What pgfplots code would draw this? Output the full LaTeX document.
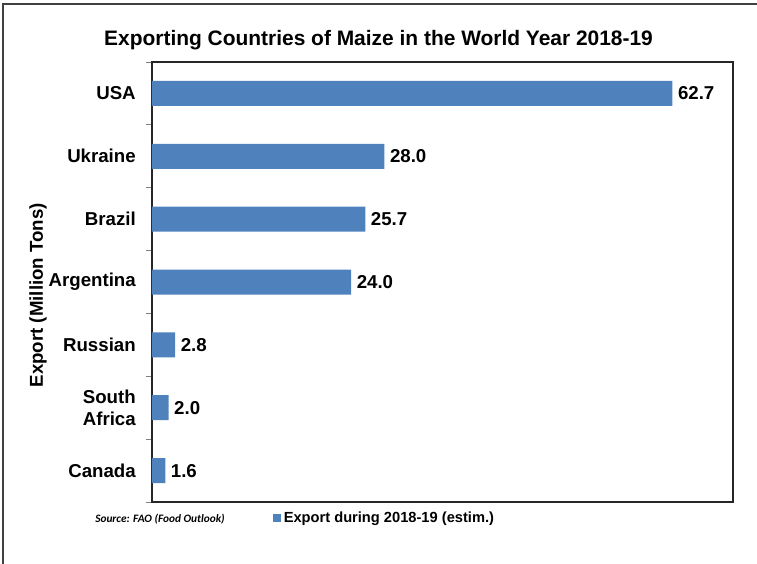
\documentclass[border=0pt]{standalone}
\usepackage{pgfplots}
\pgfplotsset{compat=1.18}
\usepackage{fontspec}
\setmainfont{Liberation Sans}
\newfontfamily\srcfont{Carlito}
\definecolor{barblue}{RGB}{79,129,189}
\definecolor{framegray}{RGB}{64,64,64}

\begin{document}
\begin{tikzpicture}
% picture is 757 x 564 px, 1px = 0.75pt
\useasboundingbox (0,0) rectangle (567.75pt,-423pt);
\draw[framegray, line width=1.3pt] (2.25pt,-424pt) -- (2.25pt,-3pt) -- (568pt,-3pt);

\node[anchor=base, font=\bfseries\fontsize{15.7}{18}\selectfont] at (283.9pt,-33.75pt)
  {Exporting Countries of Maize in the World Year 2018-19};

\begin{axis}[
  at={(114pt,-376.5pt)}, anchor=south west,
  scale only axis, width=435.75pt, height=330pt,
  xbar, bar width=18.75pt,
  xmin=0, xmax=70,
  ymin=-0.5, ymax=6.5,
  xtick=\empty,
  ytick={0,1,2,3,4,5,6},
  yticklabels={Canada,{South\\Africa},Russian,Argentina,Brazil,Ukraine,USA},
  minor ytick={-0.5,0.5,...,6.5},
  tick align=outside, tick pos=left,
  major tick length=0pt, minor tick length=4.5pt,
  minor tick style={draw=gray, line width=0.6pt},
  axis line style={draw=black!85, line width=1.1pt},
  yticklabel style={font=\bfseries\fontsize{14}{16.5}\selectfont, align=right,
    inner sep=0pt, xshift=-12pt},
  ylabel={Export (Million Tons)},
  ylabel style={at={(rel axis cs:-0.196,0.47)}, anchor=center,
    font=\bfseries\fontsize{14}{16}\selectfont},
  point meta=x,
  nodes near coords={\pgfmathprintnumber[fixed,fixed zerofill,precision=1,assume math mode=true]{\pgfplotspointmeta}},
  nodes near coords style={font=\bfseries\fontsize{14}{16}\selectfont, anchor=west,
    inner sep=0pt, xshift=4pt},
  legend style={draw=none, fill=none, at={(rel axis cs:0.208,0)}, anchor=west,
    yshift=-12pt, inner sep=0pt, font=\bfseries\fontsize{11}{13}\selectfont},
  legend image code/.code={\fill[barblue] (0pt,-3pt) rectangle (6pt,3pt);},
]
\addplot[fill=barblue, draw=none] coordinates {
  (1.6,0) (2.0,1) (2.8,2) (24.0,3) (25.7,4) (28.0,5) (62.7,6)};
\addlegendentry{Export during 2018-19 (estim.)}
\end{axis}

\node[anchor=west, inner sep=0pt, font=\srcfont\bfseries\itshape\fontsize{8.5}{10}\selectfont]
  at (71.25pt,-389.25pt) {Source: FAO (Food Outlook)};
\end{tikzpicture}
\end{document}
